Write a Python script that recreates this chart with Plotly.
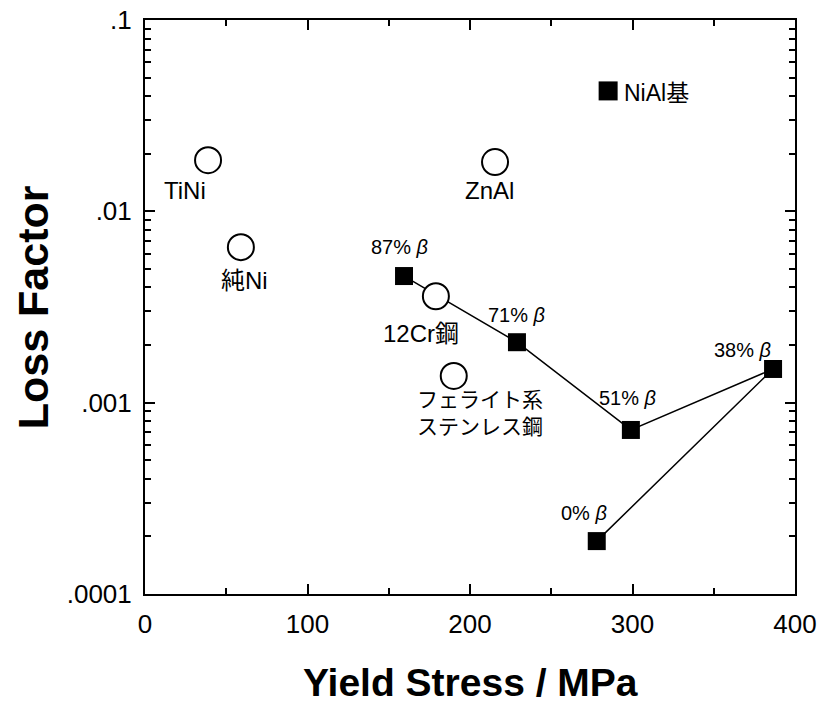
import plotly.graph_objects as go
import numpy as np

# Open circles: reference materials
circ_names = ["TiNi", "純Ni", "ZnAl", "12Cr鋼", "フェライト系<br>ステンレス鋼"]
circ_x = [38.8, 59, 215.4, 179, 190]
circ_y = [0.0185, 0.0065, 0.0181, 0.0036, 0.00138]

# Filled squares: NiAl-based alloys (connected series)
sq_labels = ["87% <i>β</i>", "71% <i>β</i>", "51% <i>β</i>", "38% <i>β</i>", "0% <i>β</i>"]
sq_x = [159.4, 228.9, 299, 386.5, 278]
sq_y = [0.00459, 0.00207, 0.00072, 0.0015, 0.000189]

niai_x = [285]
niai_y = [0.0426]

FONT = "Liberation Sans, Arial, Noto Sans CJK JP"

fig = go.Figure()
fig.add_trace(go.Scatter(x=sq_x, y=sq_y, mode="lines+markers",
                         line=dict(color="black", width=1.5),
                         marker=dict(symbol="square", size=18, color="black"),
                         showlegend=False))
fig.add_trace(go.Scatter(x=circ_x, y=circ_y, mode="markers",
                         marker=dict(symbol="circle", size=26, color="white",
                                     line=dict(color="black", width=2)),
                         showlegend=False))
fig.add_trace(go.Scatter(x=niai_x, y=niai_y, mode="markers",
                         marker=dict(symbol="square", size=19, color="black"),
                         showlegend=False))

# label positions (x, log10 y)
circ_lab_pos = [(24.6, -1.889), (61.5, -2.359), (212.3, -1.889), (169.8, -2.636), (206, -3.054)]
circ_lab_size = [24, 24, 24, 24, 21]
sq_lab_pos = [(156.9, -2.187), (228.9, -2.542), (297.2, -2.976), (367.4, -2.725), (270.2, -3.577)]

for t, (ax_, ay_), s in zip(circ_names, circ_lab_pos, circ_lab_size):
    fig.add_annotation(x=ax_, y=ay_, text=t, showarrow=False,
                       font=dict(size=s, color="black", family=FONT))
for t, (ax_, ay_) in zip(sq_labels, sq_lab_pos):
    fig.add_annotation(x=ax_, y=ay_, text=t, showarrow=False,
                       font=dict(size=20, color="black", family=FONT))
fig.add_annotation(x=315, y=-1.382, text="NiAl基", showarrow=False,
                   font=dict(size=23, color="black", family=FONT))

# axis titles
fig.add_annotation(xref="paper", yref="paper", x=0.5, y=-0.155, text="<b>Yield Stress / MPa</b>",
                   showarrow=False, yanchor="middle",
                   font=dict(size=39, color="black", family=FONT))
fig.add_annotation(xref="paper", yref="paper", x=-0.172, y=0.5, text="<b>Loss Factor</b>",
                   showarrow=False, textangle=-90, xanchor="center",
                   font=dict(size=43, color="black", family=FONT))

ytick_vals = [0.0001, 0.001, 0.01, 0.1]
ytick_text = [".0001", ".001", ".01", ".1"]
y_minor = [m * d for d in [0.0001, 0.001, 0.01] for m in range(2, 10)]

fig.update_xaxes(range=[0, 400], tickvals=[0, 100, 200, 300, 400],
                 ticks="inside", ticklen=10, tickwidth=1.5, tickcolor="black",
                 minor=dict(tickvals=[50, 150, 250, 350], ticks="inside", ticklen=6,
                            tickcolor="black", tickwidth=1.5),
                 showline=True, linecolor="black", linewidth=2, mirror="ticks",
                 showgrid=False, zeroline=False, automargin=False,
                 ticklabelstandoff=6, ticklabeloverflow="allow",
                 tickfont=dict(size=26, family=FONT, color="black"))
fig.update_yaxes(type="log", range=[-4, -1], tickvals=ytick_vals, ticktext=ytick_text,
                 ticks="inside", ticklen=10, tickwidth=1.5, tickcolor="black",
                 minor=dict(tickvals=y_minor, ticks="inside", ticklen=6, tickcolor="black",
                            tickwidth=1.5, showgrid=False),
                 showline=True, linecolor="black", linewidth=2, mirror="ticks",
                 showgrid=False, zeroline=False, automargin=False,
                 ticklabelstandoff=6, ticklabeloverflow="allow",
                 tickfont=dict(size=26, family=FONT, color="black"))

fig.update_layout(width=819, height=704, plot_bgcolor="white", paper_bgcolor="white",
                  margin=dict(l=145, r=24, t=20, b=110), showlegend=False)

# remove the browser's default 8px body margin so the figure fills the window exactly
fig.write_html("out.html", config={"displayModeBar": False},
               post_script="document.body.style.margin='0';document.body.style.overflow='hidden';")
